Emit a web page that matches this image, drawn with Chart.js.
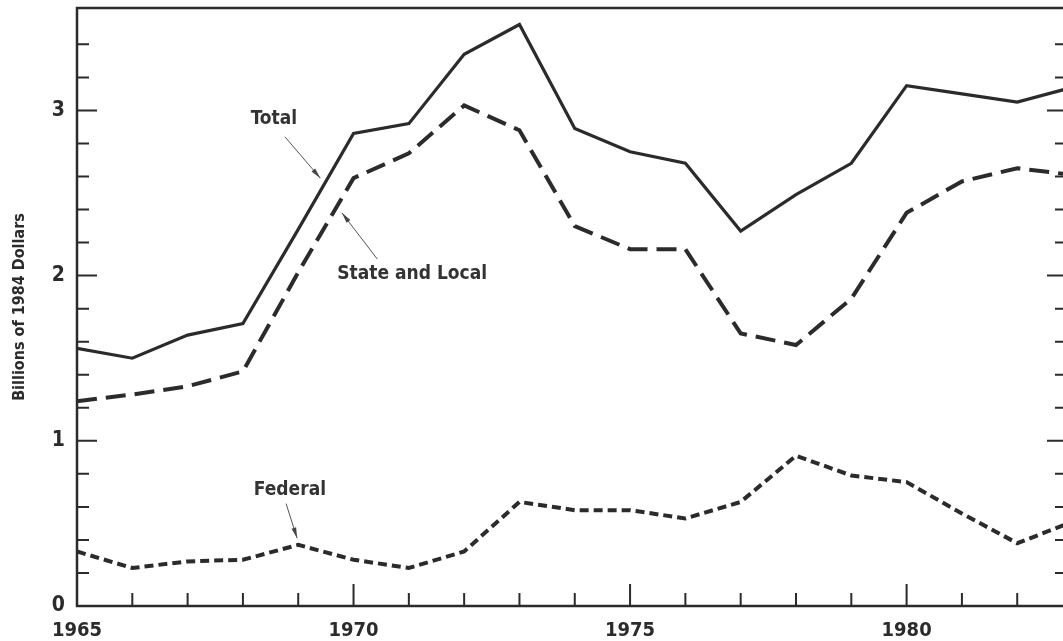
<!DOCTYPE html>
<html lang="en">
<head>
    <meta charset="UTF-8">
    <title>Billions of 1984 Dollars</title>
    <script src="https://cdn.jsdelivr.net/npm/chart.js"></script>
    <style>
        html, body {
            margin: 0;
            padding: 0;
            background: #ffffff;
            overflow: hidden;
        }
        #wrap {
            width: 1070px;
            height: 641px;
        }
    </style>
</head>
<body>
    <div id="wrap"><canvas id="chart"></canvas></div>

    <script>
        const years = [1965, 1966, 1967, 1968, 1969, 1970, 1971, 1972, 1973, 1974,
                       1975, 1976, 1977, 1978, 1979, 1980, 1981, 1982, 1983];
        const total = [1.56, 1.50, 1.64, 1.71, 2.28, 2.86, 2.92, 3.34, 3.52, 2.89,
                       2.75, 2.68, 2.27, 2.49, 2.68, 3.15, 3.10, 3.05, 3.14];
        const stateLocal = [1.24, 1.28, 1.33, 1.42, 2.02, 2.59, 2.74, 3.03, 2.88, 2.30,
                            2.16, 2.16, 1.65, 1.58, 1.86, 2.38, 2.57, 2.65, 2.61];
        const federal = [0.33, 0.23, 0.27, 0.28, 0.37, 0.28, 0.23, 0.33, 0.63, 0.58,
                         0.58, 0.53, 0.63, 0.91, 0.79, 0.75, 0.56, 0.38, 0.51];

        const xTicks = [1965, 1966, 1967, 1968, 1969, 1970, 1971, 1972, 1973, 1974,
                        1975, 1976, 1977, 1978, 1979, 1980, 1981, 1982];
        const yTicks = [0, 0.2, 0.4, 0.6, 0.8, 1, 1.2, 1.4, 1.6, 1.8,
                        2, 2.2, 2.4, 2.6, 2.8, 3, 3.2, 3.4];

        const INK = '#2b2b2b';
        const FONT = '"Liberation Sans Narrow", "DejaVu Sans Condensed", "Roboto", sans-serif';

        // labels with arrows, placed in data units
        const notes = [
            { text: 'Total', x: 1968.56, y: 2.95, from: [1968.76, 2.84], to: [1969.40, 2.59] },
            { text: 'State and Local', x: 1971.06, y: 2.01, from: [1970.43, 2.10], to: [1969.79, 2.38] },
            { text: 'Federal', x: 1968.85, y: 0.70, from: [1968.78, 0.62], to: [1968.98, 0.41] }
        ];

        function pts(vals) {
            return years.map((yr, i) => ({ x: yr, y: vals[i] }));
        }

        const frameAndTicks = {
            id: 'frameAndTicks',
            afterDraw(chart) {
                const ctx = chart.ctx;
                const a = chart.chartArea;
                const xs = chart.scales.x, ys = chart.scales.y;
                ctx.save();
                ctx.strokeStyle = INK;
                ctx.lineWidth = 2.5;
                ctx.strokeRect(a.left, a.top, a.right - a.left, a.bottom - a.top);

                ctx.lineWidth = 2;
                ctx.beginPath();
                xTicks.forEach(v => {
                    const px = xs.getPixelForValue(v);
                    const len = v % 5 === 0 ? 22 : 13;
                    ctx.moveTo(px, a.bottom);
                    ctx.lineTo(px, a.bottom - len);
                });
                yTicks.forEach(v => {
                    const py = ys.getPixelForValue(v);
                    const major = Math.abs(v - Math.round(v)) < 1e-6;
                    const len = major ? 20 : 12;
                    ctx.moveTo(a.left, py);
                    ctx.lineTo(a.left + len, py);
                    ctx.moveTo(a.right, py);
                    ctx.lineTo(a.right - len, py);
                });
                ctx.stroke();

                // annotations
                ctx.font = 'bold 19px ' + FONT;
                ctx.textAlign = 'center';
                ctx.textBaseline = 'middle';
                notes.forEach(n => {
                    ctx.fillStyle = '#333';
                    ctx.fillText(n.text, xs.getPixelForValue(n.x), ys.getPixelForValue(n.y));
                    const x1 = xs.getPixelForValue(n.from[0]), y1 = ys.getPixelForValue(n.from[1]);
                    const x2 = xs.getPixelForValue(n.to[0]), y2 = ys.getPixelForValue(n.to[1]);
                    ctx.strokeStyle = '#555';
                    ctx.lineWidth = 1;
                    ctx.beginPath();
                    ctx.moveTo(x1, y1);
                    ctx.lineTo(x2, y2);
                    ctx.stroke();
                    const ang = Math.atan2(y2 - y1, x2 - x1);
                    ctx.fillStyle = '#444';
                    ctx.beginPath();
                    ctx.moveTo(x2, y2);
                    ctx.lineTo(x2 - 11 * Math.cos(ang - 0.22), y2 - 11 * Math.sin(ang - 0.22));
                    ctx.lineTo(x2 - 11 * Math.cos(ang + 0.22), y2 - 11 * Math.sin(ang + 0.22));
                    ctx.closePath();
                    ctx.fill();
                });
                ctx.restore();
            }
        };

        new Chart(document.getElementById('chart'), {
            type: 'line',
            data: {
                datasets: [
                    { label: 'Total', data: pts(total), borderColor: INK, borderWidth: 3.2 },
                    { label: 'State and Local', data: pts(stateLocal), borderColor: INK, borderWidth: 4, borderDash: [20, 9] },
                    { label: 'Federal', data: pts(federal), borderColor: INK, borderWidth: 4, borderDash: [9, 5] }
                ]
            },
            options: {
                responsive: true,
                maintainAspectRatio: false,
                animation: false,
                events: [],
                elements: { point: { radius: 0 }, line: { tension: 0 } },
                layout: { padding: { top: 8, right: 3, left: 0, bottom: 0 } },
                plugins: { legend: { display: false }, tooltip: { enabled: false } },
                scales: {
                    x: {
                        type: 'linear',
                        min: 1965,
                        max: 1982.9,
                        afterBuildTicks: s => { s.ticks = xTicks.map(v => ({ value: v })); },
                        afterFit: s => { s.height = 35; s.paddingLeft = 0; s.paddingRight = 0; },
                        grid: { display: false, drawTicks: false },
                        border: { display: false },
                        ticks: {
                            autoSkip: false,
                            maxRotation: 0,
                            padding: 13,
                            color: '#2b2b2b',
                            font: { family: FONT, size: 20, weight: 'bold' },
                            callback: v => (v % 5 === 0 ? String(v) : '')
                        }
                    },
                    y: {
                        min: 0,
                        max: 3.62,
                        afterBuildTicks: s => { s.ticks = yTicks.map(v => ({ value: v })); },
                        afterFit: s => { s.width = 77; s.paddingTop = 0; s.paddingBottom = 0; },
                        grid: { display: false, drawTicks: false },
                        border: { display: false },
                        title: {
                            display: true,
                            text: 'Billions of 1984 Dollars',
                            color: '#2b2b2b',
                            font: { family: FONT, size: 16, weight: 'bold' },
                            padding: { top: 10, bottom: 10 }
                        },
                        ticks: {
                            padding: 12,
                            color: '#2b2b2b',
                            font: { family: FONT, size: 21, weight: 'bold' },
                            callback: v => (Math.abs(v - Math.round(v)) < 1e-6 ? String(Math.round(v)) : '')
                        }
                    }
                }
            },
            plugins: [frameAndTicks]
        });
    </script>
</body>
</html>
